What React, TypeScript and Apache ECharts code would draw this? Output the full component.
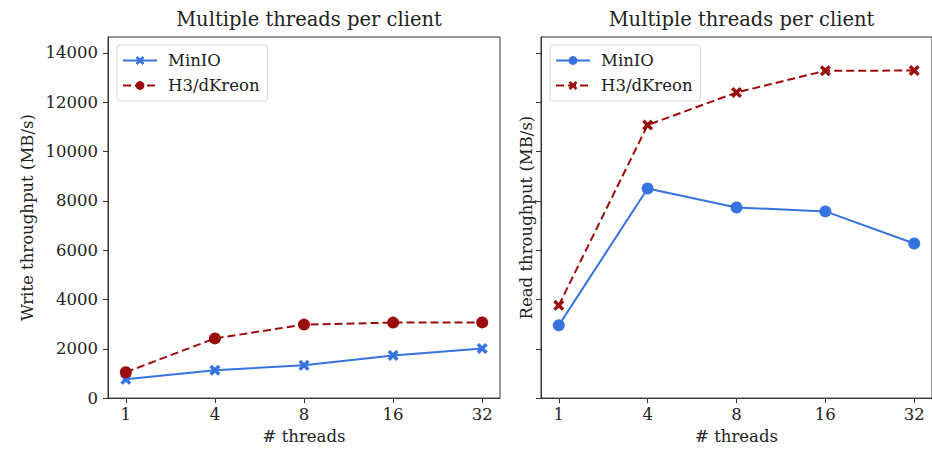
import React, { useEffect, useRef } from "react";
import * as echarts from "echarts";

const threads = ["1", "4", "8", "16", "32"];
const writeMinIO = [760, 1130, 1330, 1730, 2010];
const writeH3 = [1050, 2420, 2980, 3060, 3070];
const readMinIO = [2950, 8500, 7730, 7570, 6270];
const readH3 = [3760, 11070, 12390, 13270, 13280];
const yTicks = [0, 2000, 4000, 6000, 8000, 10000, 12000, 14000];
const titleText = "Multiple threads per client";

const BLUE = "#3672e0";
const RED = "#9b0c0c";
const FONT = "DejaVu Serif";
const X_SYMBOL =
  "path://M0,2.2 L2.2,0 L5,2.8 L7.8,0 L10,2.2 L7.2,5 L10,7.8 L7.8,10 L5,7.2 L2.2,10 L0,7.8 L2.8,5 Z";

const toPts = (vals: number[]) => vals.map((v, i) => [i, v]);

export default function App() {
  const ref = useRef<HTMLDivElement>(null);
  useEffect(() => {
    document.body.style.margin = "0";
    const chart = echarts.init(ref.current!, null, { renderer: "svg" });
    const grids = [
      { left: 108, width: 392 },
      { left: 541, width: 391 },
    ];
    const FS = 16.5;
    const xAxis = (gi: number) => ({
      type: "value",
      gridIndex: gi,
      min: -0.2,
      max: 4.2,
      name: "# threads",
      nameLocation: "middle",
      nameGap: 29,
      nameTextStyle: { fontFamily: FONT, fontSize: FS, color: "#222" },
      axisLine: { show: true, onZero: false, lineStyle: { color: "#333", width: 1 } },
      axisTick: { show: true, length: 5, customValues: [0, 1, 2, 3, 4], lineStyle: { color: "#333" } },
      axisLabel: {
        customValues: [0, 1, 2, 3, 4],
        formatter: (v: number) => threads[Math.round(v)] ?? "",
        fontFamily: FONT,
        fontSize: FS,
        color: "#222",
        margin: 8,
      },
      splitLine: { show: false },
    });
    const yAxis = (gi: number, name: string, showLabels: boolean, gap: number) => ({
      type: "value",
      gridIndex: gi,
      min: 0,
      max: 14640,
      name,
      nameLocation: "middle",
      nameGap: gap,
      nameTextStyle: { fontFamily: FONT, fontSize: FS, color: "#222" },
      axisLine: { show: true, onZero: false, lineStyle: { color: "#333", width: 1 } },
      axisTick: { show: true, length: 5, customValues: yTicks, lineStyle: { color: "#333" } },
      axisLabel: {
        show: showLabels,
        customValues: yTicks,
        formatter: (v: number) => String(v),
        fontFamily: FONT,
        fontSize: FS,
        color: "#222",
        margin: 10,
      },
      splitLine: { show: false },
    });
    const line = (
      name: string,
      gi: number,
      data: number[],
      color: string,
      dashed: boolean,
      symbol: string,
      size: number
    ) => ({
      type: "line",
      name,
      xAxisIndex: gi,
      yAxisIndex: gi,
      data: toPts(data),
      symbol,
      symbolSize: size,
      showAllSymbol: true,
      lineStyle: { color, width: 2, type: dashed ? [8, 4] : "solid" },
      itemStyle: { color, borderWidth: 0 },
      z: dashed ? 3 : 2,
    });
    const legend = (left: number, names: string[]) => ({
      orient: "vertical",
      left,
      top: 45,
      data: names,
      formatter: (n: string) => n.trim(),
      itemWidth: 34,
      itemHeight: 11,
      itemGap: 8,
      padding: [7, 8, 7, 5],
      backgroundColor: "#fff",
      borderColor: "#d6d6d6",
      borderWidth: 1,
      borderRadius: 3,
      selectedMode: false,
      textStyle: { fontFamily: FONT, fontSize: FS, color: "#222", padding: [0, 0, 0, 6] },
    });
    chart.setOption({
      animation: false,
      backgroundColor: "#fff",
      title: grids.map((g) => ({
        text: titleText,
        left: g.left + g.width / 2,
        top: 4,
        textAlign: "center",
        textStyle: { fontFamily: FONT, fontSize: 19.5, fontWeight: "normal", color: "#222" },
      })),
      grid: grids.map((g) => ({
        left: g.left,
        top: 37,
        width: g.width,
        height: 363,
        show: true,
        borderColor: "#333",
        borderWidth: 1,
        backgroundColor: "transparent",
      })),
      legend: [
        legend(117, ["MinIO", "H3/dKreon"]),
        legend(550, ["MinIO ", "H3/dKreon "]),
      ],
      xAxis: [xAxis(0), xAxis(1)],
      yAxis: [
        yAxis(0, "Write throughput (MB/s)", true, 72),
        yAxis(1, "Read throughput (MB/s)", false, 6),
      ],
      series: [
        line("MinIO", 0, writeMinIO, BLUE, false, X_SYMBOL, 11),
        line("H3/dKreon", 0, writeH3, RED, true, "circle", 12),
        line("MinIO ", 1, readMinIO, BLUE, false, "circle", 12),
        line("H3/dKreon ", 1, readH3, RED, true, X_SYMBOL, 11),
      ],
    });
    return () => chart.dispose();
  }, []);
  return <div ref={ref} style={{ width: 932, height: 450 }} />;
}
